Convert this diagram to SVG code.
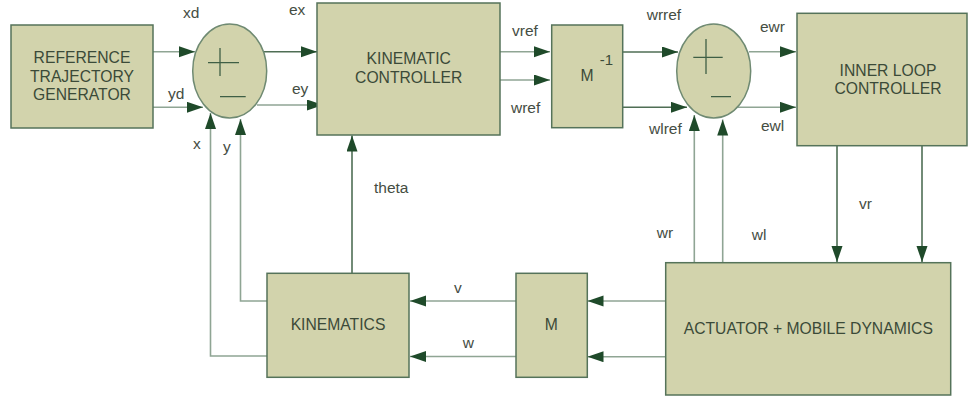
<svg xmlns="http://www.w3.org/2000/svg" width="969" height="398" viewBox="0 0 969 398">
<style>
.box{fill:#d2d3ac;stroke:#55735a;stroke-width:1.5}
.sum{fill:#d2d3ac;stroke:#6f8a72;stroke-width:1.5}
.sign{stroke:#3f5f45;stroke-width:1.3;fill:none}
.bt{font-family:"Liberation Sans",Arial,sans-serif;font-size:15.7px;fill:#3b4a38;text-anchor:middle}
.lb{font-family:"Liberation Sans",Arial,sans-serif;font-size:15.5px;fill:#454d43}
.c{fill:none;stroke:#8fa594;stroke-width:1.6;marker-end:url(#ah)}
.cn{fill:none;stroke:#8fa594;stroke-width:1.6}
.dk{stroke:#4f6e55}
</style>
<defs>
<marker id="ah" markerUnits="userSpaceOnUse" markerWidth="17" markerHeight="12" refX="16" refY="5.5" orient="auto">
<path d="M0,0 L16,5.5 L0,11 z" fill="#1f4a2a"/>
</marker>
</defs>
<rect width="969" height="398" fill="#ffffff"/>
<g id="connectors">
<path class="c" d="M153,51.7 H195"/>
<path class="c" d="M153,107.3 H203"/>
<path class="c dk" d="M263,51.7 H317"/>
<path class="c" d="M257,105 H323"/>
<path class="c" d="M500,51.7 H550"/>
<path class="c" d="M500,80 H550"/>
<path class="c dk" d="M623,52 H678"/>
<path class="c dk" d="M623,107.3 H687"/>
<path class="c" d="M749,51.7 H796"/>
<path class="c" d="M738,107.3 H796"/>
<path class="c dk" d="M837,146 V262"/>
<path class="c dk" d="M922,146 V262"/>
<path class="c" d="M694.3,263 V115"/>
<path class="c" d="M722.7,263 V119.5"/>
<path class="c" d="M666,301 H587.5"/>
<path class="c" d="M666,356.7 H587.5"/>
<path class="c" d="M516,301 H410"/>
<path class="c" d="M516,356.5 H410"/>
<path class="c dk" d="M352,273 V135.5"/>
<path class="c" d="M267,301 H240.5 V119"/>
<path class="c" d="M267,356 H210.5 V113"/>
</g>
<g id="ref-traj">
<rect class="box" x="11" y="25" width="142" height="103"/>
<text class="bt" x="82" y="63.3">REFERENCE</text>
<text class="bt" x="82" y="81.7">TRAJECTORY</text>
<text class="bt" x="82" y="100">GENERATOR</text>
</g>
<g id="sum1">
<ellipse class="sum" cx="229.7" cy="71" rx="37" ry="47"/>
<path class="sign" d="M208,62.7 H239 M220,48 V76 M220,96.7 H245.7"/>
</g>
<g id="kin-ctrl">
<rect class="box" x="317" y="3" width="183" height="132"/>
<text class="bt" x="408.7" y="64">KINEMATIC</text>
<text class="bt" x="408.7" y="82.7">CONTROLLER</text>
</g>
<g id="minv">
<rect class="box" x="551.7" y="25" width="71" height="102.7"/>
<text class="bt" x="587" y="80.7">M</text>
<text class="bt" x="606.5" y="65" style="font-size:15px">-1</text>
</g>
<g id="sum2">
<ellipse class="sum" cx="713.7" cy="71" rx="37" ry="47"/>
<path class="sign" d="M693.3,57.3 H722.7 M706,39 V74 M711,96.7 H731"/>
</g>
<g id="inner">
<rect class="box" x="797" y="13.3" width="170" height="132.4"/>
<text class="bt" x="888" y="76">INNER LOOP</text>
<text class="bt" x="888" y="94">CONTROLLER</text>
</g>
<g id="actuator">
<rect class="box" x="665.7" y="262.7" width="285" height="132.3"/>
<text class="bt" x="808.3" y="334">ACTUATOR + MOBILE DYNAMICS</text>
</g>
<g id="mblock">
<rect class="box" x="516" y="273.3" width="71.3" height="104"/>
<text class="bt" x="551.3" y="330">M</text>
</g>
<g id="kinematics">
<rect class="box" x="267" y="273.3" width="142" height="104"/>
<text class="bt" x="338" y="330">KINEMATICS</text>
</g>
<g id="labels">
<text class="lb" x="183" y="18.3">xd</text>
<text class="lb" x="289" y="15">ex</text>
<text class="lb" x="168" y="99">yd</text>
<text class="lb" x="292" y="93.5">ey</text>
<text class="lb" x="193" y="149.3">x</text>
<text class="lb" x="223" y="151.7">y</text>
<text class="lb" x="512" y="36">vref</text>
<text class="lb" x="511" y="113">wref</text>
<text class="lb" x="374" y="192.7">theta</text>
<text class="lb" x="646.7" y="20">wrref</text>
<text class="lb" x="649" y="134">wlref</text>
<text class="lb" x="760" y="31.7">ewr</text>
<text class="lb" x="761" y="131">ewl</text>
<text class="lb" x="859" y="209">vr</text>
<text class="lb" x="656.7" y="238.3">wr</text>
<text class="lb" x="751.7" y="240">wl</text>
<text class="lb" x="454" y="292.7">v</text>
<text class="lb" x="462.7" y="347.7">w</text>
</g>
</svg>
